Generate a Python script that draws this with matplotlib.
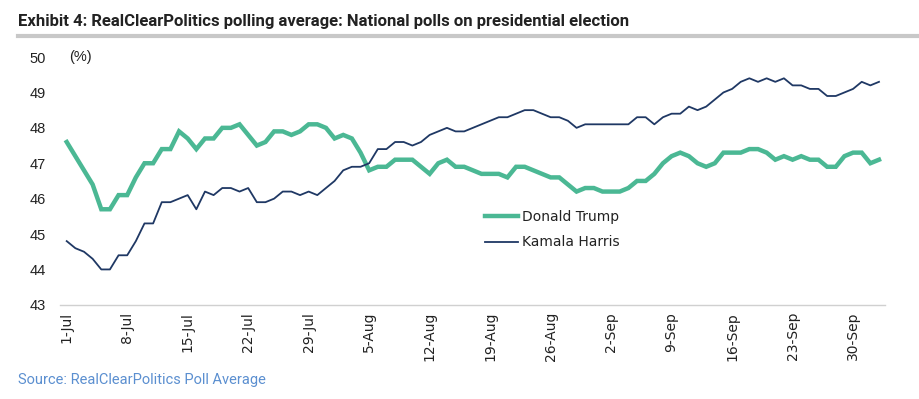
import matplotlib
matplotlib.use("Agg")
import matplotlib.pyplot as plt
import numpy as np
import pandas as pd
from matplotlib.lines import Line2D

dates = pd.date_range("2024-07-01", "2024-10-03", freq="D")

trump = [
    # July
    47.6, 47.2, 46.8, 46.4, 45.7, 45.7, 46.1, 46.1, 46.6, 47.0,
    47.0, 47.4, 47.4, 47.9, 47.7, 47.4, 47.7, 47.7, 48.0, 48.0,
    48.1, 47.8, 47.5, 47.6, 47.9, 47.9, 47.8, 47.9, 48.1, 48.1, 48.0,
    # August
    47.7, 47.8, 47.7, 47.3, 46.8, 46.9, 46.9, 47.1, 47.1, 47.1,
    46.9, 46.7, 47.0, 47.1, 46.9, 46.9, 46.8, 46.7, 46.7, 46.7,
    46.6, 46.9, 46.9, 46.8, 46.7, 46.6, 46.6, 46.4, 46.2, 46.3, 46.3,
    # September
    46.2, 46.2, 46.2, 46.3, 46.5, 46.5, 46.7, 47.0, 47.2, 47.3,
    47.2, 47.0, 46.9, 47.0, 47.3, 47.3, 47.3, 47.4, 47.4, 47.3,
    47.1, 47.2, 47.1, 47.2, 47.1, 47.1, 46.9, 46.9, 47.2, 47.3,
    # October
    47.3, 47.0, 47.1,
]

harris = [
    # July
    44.8, 44.6, 44.5, 44.3, 44.0, 44.0, 44.4, 44.4, 44.8, 45.3,
    45.3, 45.9, 45.9, 46.0, 46.1, 45.7, 46.2, 46.1, 46.3, 46.3,
    46.2, 46.3, 45.9, 45.9, 46.0, 46.2, 46.2, 46.1, 46.2, 46.1, 46.3,
    # August
    46.5, 46.8, 46.9, 46.9, 47.0, 47.4, 47.4, 47.6, 47.6, 47.5,
    47.6, 47.8, 47.9, 48.0, 47.9, 47.9, 48.0, 48.1, 48.2, 48.3,
    48.3, 48.4, 48.5, 48.5, 48.4, 48.3, 48.3, 48.2, 48.0, 48.1, 48.1,
    # September
    48.1, 48.1, 48.1, 48.1, 48.3, 48.3, 48.1, 48.3, 48.4, 48.4,
    48.6, 48.5, 48.6, 48.8, 49.0, 49.1, 49.3, 49.4, 49.3, 49.4,
    49.3, 49.4, 49.2, 49.2, 49.1, 49.1, 48.9, 48.9, 49.0, 49.1,
    # October
    49.3, 49.2, 49.3,
]

tick_dates = pd.date_range("2024-07-01", "2024-09-30", freq="7D")
tick_labels = [f"{d.day}-{d.strftime('%b')}" for d in tick_dates]
y_ticks = [43, 44, 45, 46, 47, 48, 49, 50]

trump_color = "#4BB894"
harris_color = "#1F3864"

fig = plt.figure(figsize=(9.2, 3.99), dpi=100)
ax = fig.add_axes([0.065, 0.236, 0.897, 0.621])

ax.plot(dates, trump, color=trump_color, lw=3.2, solid_joinstyle="miter", label="Donald Trump")
ax.plot(dates, harris, color=harris_color, lw=1.3, label="Kamala Harris")

x0 = dates[0] - pd.Timedelta(days=0.8)
x1 = dates[0] + pd.Timedelta(days=94.7)
ax.set_xlim(x0, x1)
ax.set_ylim(43, 50)
ax.set_yticks(y_ticks)
ax.set_yticklabels([str(v) for v in y_ticks], fontsize=10.5, color="#222222", family="Liberation Sans")
ax.set_xticks(tick_dates)
ax.set_xticklabels(tick_labels, rotation=90, fontsize=10, color="#222222", family="DejaVu Sans")
ax.tick_params(axis="both", length=0)
ax.tick_params(axis="y", pad=10)
ax.tick_params(axis="x", pad=5)

for s in ["top", "right", "left"]:
    ax.spines[s].set_visible(False)
ax.spines["bottom"].set_color("#D0D0D0")
ax.spines["bottom"].set_linewidth(1.0)

ax.text(0.011, 1.0, "(%)", transform=ax.transAxes, fontsize=10.5, color="#222222",
        va="center", ha="left", family="Liberation Sans")

handles = [Line2D([], [], color=trump_color, lw=3.2), Line2D([], [], color=harris_color, lw=1.3)]
leg = ax.legend(handles, ["Donald Trump", "Kamala Harris"], loc="upper left",
                bbox_to_anchor=(0.500, 0.432), frameon=False, fontsize=10,
                handlelength=2.4, handletextpad=0.3, labelspacing=0.8)
for t in leg.get_texts():
    t.set_color("#222222")

fig.text(0.0196, 0.945, "Exhibit 4: RealClearPolitics polling average: National polls on presidential election",
         fontsize=12, fontweight="bold", color="#222222", ha="left", va="center",
         family="Roboto")
fig.add_artist(Line2D([0.0196, 1.0], [0.91, 0.91], transform=fig.transFigure,
                      color="#C8C8C8", lw=3))

fig.text(0.0196, 0.047, "Source: RealClearPolitics Poll Average", fontsize=10.5,
         color="#5B8FD0", ha="left", va="center", family="Roboto")

fig.savefig("out.png", dpi=100, facecolor="white")
